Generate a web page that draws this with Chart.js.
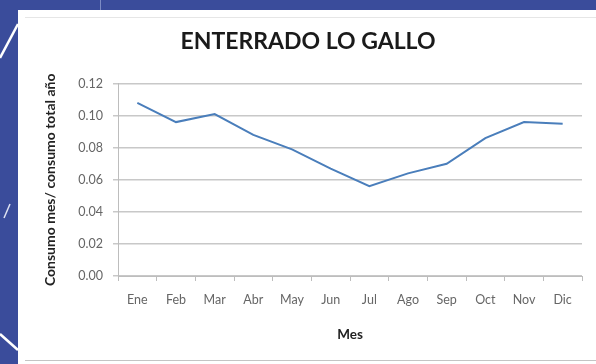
<!DOCTYPE html>
<html>
<head>
<meta charset="utf-8">
<script src="https://cdn.jsdelivr.net/npm/chart.js@4"></script>
<style>
  html, body { margin: 0; padding: 0; }
  body { width: 596px; height: 364px; background: #3a4c9b; position: relative; overflow: hidden; }
  #topline { position: absolute; left: 100px; top: 0; width: 1px; height: 10px; background: #7d8cc4; }
  #panel { position: absolute; left: 18px; top: 10px; width: 578px; height: 354px; background: #fff; }
  #frame { position: absolute; left: 7px; top: 7px; width: 580px; height: 342px;
           border-top: 1px solid #e6e6e6; border-bottom: 1px solid #c4c4c4; }
  #deco { position: absolute; left: 0; top: 0; }
  #wrap { position: absolute; left: 0; top: 0; width: 578px; height: 350px; }
</style>
</head>
<body>
<div id="topline"></div>
<svg id="deco" width="20" height="364">
  <line x1="18" y1="24" x2="0" y2="58" stroke="#fff" stroke-width="2.5"/>
  <line x1="0" y1="334" x2="18" y2="350" stroke="#fff" stroke-width="2.5"/>
  <line x1="4" y1="218" x2="10" y2="204" stroke="#dfe3f2" stroke-width="1.5"/>
</svg>
<div id="panel">
  <div id="frame"></div>
  <div id="wrap"><canvas id="c"></canvas></div>
</div>
<script>
// consumo mensual / consumo total anual
var meses = ["Ene", "Feb", "Mar", "Abr", "May", "Jun", "Jul", "Ago", "Sep", "Oct", "Nov", "Dic"];
var consumo = [0.108, 0.096, 0.101, 0.088, 0.079, 0.067, 0.056, 0.064, 0.070, 0.086, 0.096, 0.095];
var yTicks = [0, 0.02, 0.04, 0.06, 0.08, 0.10, 0.12];

var ctx = document.getElementById("c").getContext('2d');

var chart = new Chart(ctx, {
    type: 'line',
    data: {
        labels: meses,
        datasets: [{
            data: consumo,
            borderColor: '#4a7ebb',
            borderWidth: 2,
            pointRadius: 0,
            tension: 0,
            fill: false
        }]
    },
    options: {
        responsive: true,
        maintainAspectRatio: false,
        animation: false,
        layout: { padding: { left: 16, right: 14, top: 14, bottom: 17 } },
        plugins: {
            legend: { display: false },
            tooltip: { enabled: false },
            title: {
                display: true,
                text: 'ENTERRADO LO GALLO',
                color: '#1a1a1a',
                font: { family: 'Lato', size: 23, weight: 'bold' },
                padding: { top: 4, bottom: 28 }
            }
        },
        scales: {
            x: {
                offset: true,
                afterFit: function (s) { s.height = 67; },
                grid: {
                    offset: true,
                    drawOnChartArea: false,
                    tickLength: 5,
                    color: '#bdbdbd',
                    lineWidth: 1
                },
                border: { color: '#bdbdbd', width: 1 },
                ticks: {
                    color: '#666',
                    font: { family: 'Lato', size: 12.5 },
                    padding: 11,
                    maxRotation: 0,
                    autoSkip: false
                },
                title: {
                    display: true,
                    text: 'Mes',
                    color: '#222',
                    font: { family: 'Lato', size: 13.5, weight: 'bold' },
                    padding: { top: 0, bottom: 0 }
                }
            },
            y: {
                min: 0,
                max: 0.12,
                afterFit: function (s) { s.width = 84; },
                afterBuildTicks: function (axis) {
                    axis.ticks = yTicks.map(function (v) { return { value: v }; });
                },
                grid: {
                    color: '#c8c8c8',
                    lineWidth: 1.5,
                    tickLength: 5
                },
                border: { color: '#bdbdbd', width: 1 },
                ticks: {
                    color: '#666',
                    font: { family: 'Lato', size: 12.5 },
                    padding: 10,
                    callback: function (v) { return v.toFixed(2); }
                },
                title: {
                    display: true,
                    text: 'Consumo mes/ consumo total año',
                    color: '#222',
                    font: { family: 'Lato', size: 14, weight: 'bold' },
                    padding: { top: 8, bottom: 0 }
                }
            }
        }
    }
});
</script>
</body>
</html>
